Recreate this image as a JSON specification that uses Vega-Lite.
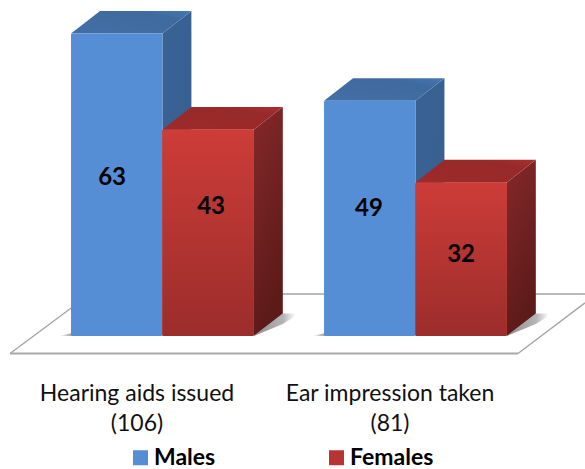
{
"$schema":"https://vega.github.io/schema/vega-lite/v6.json",
"width":585,"height":469,"padding":0,"autosize":{"type":"none"},"background":"white",
"config":{"view":{"stroke":null}},
"datasets":{
"bars":[
{"group":"Hearing aids issued","sex":"Males","value":63,"start":0,"end":1,"labelPos":0.449,"labelY":33},
{"group":"Hearing aids issued","sex":"Females","value":43,"start":1,"end":2,"labelPos":1.532,"labelY":26.8},
{"group":"Ear impression taken","sex":"Males","value":49,"start":2.768,"end":3.768,"labelPos":3.26,"labelY":26.4},
{"group":"Ear impression taken","sex":"Females","value":32,"start":3.768,"end":4.768,"labelPos":4.267,"labelY":16.8}
],
"groups":[
{"label":"Hearing aids issued\n(106)","pos":0.722,"y":-12.1},
{"label":"Ear impression taken\n(81)","pos":3.49,"y":-12.1}
],
"floor":[
{"edge":"left","pos":-0.667,"y":-3.65},{"edge":"left","pos":0.208,"y":8.75},
{"edge":"back","pos":0.208,"y":8.75},{"edge":"back","pos":5.623,"y":8.75},
{"edge":"right","pos":4.89,"y":-3.65},{"edge":"right","pos":5.623,"y":6.9}
],
"floorFront":[{"edge":"front","pos":-0.667,"y":-3.65},{"edge":"front","pos":4.89,"y":-3.65}],
"shadows":[
{"shadow":"left 1","side":"left","pos":-0.13,"low":0,"high":0},{"shadow":"left 1","side":"left","pos":0.02,"low":0,"high":0.7},
{"shadow":"left 2","side":"left","pos":2.638,"low":0,"high":0},{"shadow":"left 2","side":"left","pos":2.788,"low":0,"high":0.7},
{"shadow":"right 1","side":"right","pos":2,"low":0,"high":0},{"shadow":"right 1","side":"right","pos":2.317,"low":2.5,"high":4.7},{"shadow":"right 1","side":"right","pos":2.46,"low":4.2,"high":4.7},
{"shadow":"right 2","side":"right","pos":4.768,"low":0,"high":0},{"shadow":"right 2","side":"right","pos":5.085,"low":2.5,"high":4.7},{"shadow":"right 2","side":"right","pos":5.228,"low":4.2,"high":4.7}
],
"faces":[
{"face":"M1 side","tone":"blue side","pos":1,"low":0,"high":63},{"face":"M1 side","tone":"blue side","pos":1.317,"low":4.7,"high":67.7},
{"face":"M1 top","tone":"blue top","pos":0,"low":63,"high":63},{"face":"M1 top","tone":"blue top","pos":0.317,"low":63,"high":67.7},{"face":"M1 top","tone":"blue top","pos":1,"low":63,"high":67.7},{"face":"M1 top","tone":"blue top","pos":1.317,"low":67.7,"high":67.7},
{"face":"M2 side","tone":"blue side","pos":3.768,"low":0,"high":49},{"face":"M2 side","tone":"blue side","pos":4.085,"low":4.7,"high":53.7},
{"face":"M2 top","tone":"blue top","pos":2.768,"low":49,"high":49},{"face":"M2 top","tone":"blue top","pos":3.085,"low":49,"high":53.7},{"face":"M2 top","tone":"blue top","pos":3.768,"low":49,"high":53.7},{"face":"M2 top","tone":"blue top","pos":4.085,"low":53.7,"high":53.7},
{"face":"F1 side","tone":"red side","pos":2,"low":0,"high":43},{"face":"F1 side","tone":"red side","pos":2.317,"low":4.7,"high":47.7},
{"face":"F1 top","tone":"red top","pos":1,"low":43,"high":43},{"face":"F1 top","tone":"red top","pos":1.317,"low":43,"high":47.7},{"face":"F1 top","tone":"red top","pos":2,"low":43,"high":47.7},{"face":"F1 top","tone":"red top","pos":2.317,"low":47.7,"high":47.7},
{"face":"F2 side","tone":"red side","pos":4.768,"low":0,"high":32},{"face":"F2 side","tone":"red side","pos":5.085,"low":4.7,"high":36.7},
{"face":"F2 top","tone":"red top","pos":3.768,"low":32,"high":32},{"face":"F2 top","tone":"red top","pos":4.085,"low":32,"high":36.7},{"face":"F2 top","tone":"red top","pos":4.768,"low":32,"high":36.7},{"face":"F2 top","tone":"red top","pos":5.085,"low":36.7,"high":36.7}
]
},
"layer":[
{"data":{"name":"floor"},"mark":{"type":"line","stroke":"#a3a3a3","strokeWidth":1.3},
 "encoding":{"x":{"field":"pos","type":"quantitative","scale":{"domain":[-0.777,5.623],"nice":false,"zero":false},"axis":null},
 "y":{"field":"y","type":"quantitative","scale":{"domain":[-27.71,70],"nice":false,"zero":false},"axis":null},"detail":{"field":"edge"}}},
{"data":{"name":"floorFront"},"mark":{"type":"line","stroke":"#a8a8a8","strokeWidth":2},
 "encoding":{"x":{"field":"pos","type":"quantitative"},"y":{"field":"y","type":"quantitative"},"detail":{"field":"edge"}}},
{"data":{"name":"shadows"},"transform":[{"filter":"datum.side=='left'"}],
 "mark":{"type":"area","color":{"gradient":"linear","x1":0,"y1":0,"x2":1,"y2":0,"stops":[{"offset":0,"color":"#ffffff"},{"offset":1,"color":"#9a9a9a"}]}},
 "encoding":{"x":{"field":"pos","type":"quantitative"},"y":{"field":"high","type":"quantitative","stack":null},"y2":{"field":"low"},"detail":{"field":"shadow"}}},
{"data":{"name":"shadows"},"transform":[{"filter":"datum.side=='right'"}],
 "mark":{"type":"area","color":{"gradient":"linear","x1":0,"y1":0,"x2":1,"y2":0,"stops":[{"offset":0,"color":"#8f8f8f"},{"offset":0.7,"color":"#b5b5b5"},{"offset":1,"color":"#ffffff"}]}},
 "encoding":{"x":{"field":"pos","type":"quantitative"},"y":{"field":"high","type":"quantitative","stack":null},"y2":{"field":"low"},"detail":{"field":"shadow"}}},
{"data":{"name":"faces"},"transform":[{"filter":"datum.tone=='blue side'"}],
 "mark":{"type":"area","color":{"gradient":"linear","x1":0,"y1":0,"x2":1,"y2":1,"stops":[{"offset":0,"color":"#3a6395"},{"offset":1,"color":"#365d8d"}]}},
 "encoding":{"x":{"field":"pos","type":"quantitative"},"y":{"field":"high","type":"quantitative","stack":null},"y2":{"field":"low"},"detail":{"field":"face"}}},
{"data":{"name":"faces"},"transform":[{"filter":"datum.tone=='blue top'"}],
 "mark":{"type":"area","color":{"gradient":"linear","x1":0,"y1":1,"x2":1,"y2":0,"stops":[{"offset":0,"color":"#426fa6"},{"offset":0.75,"color":"#3f6a9f"},{"offset":1,"color":"#4478b5"}]}},
 "encoding":{"x":{"field":"pos","type":"quantitative"},"y":{"field":"high","type":"quantitative","stack":null},"y2":{"field":"low"},"detail":{"field":"face"}}},
{"data":{"name":"faces"},"transform":[{"filter":"datum.tone=='red side'"}],
 "mark":{"type":"area","color":{"gradient":"linear","x1":0,"y1":0,"x2":0.3,"y2":1,"stops":[{"offset":0,"color":"#85282a"},{"offset":1,"color":"#5c1a19"}]}},
 "encoding":{"x":{"field":"pos","type":"quantitative"},"y":{"field":"high","type":"quantitative","stack":null},"y2":{"field":"low"},"detail":{"field":"face"}}},
{"data":{"name":"faces"},"transform":[{"filter":"datum.tone=='red top'"}],
 "mark":{"type":"area","color":{"gradient":"linear","x1":0,"y1":1,"x2":1,"y2":0,"stops":[{"offset":0,"color":"#9c2b29"},{"offset":0.75,"color":"#98292a"},{"offset":1,"color":"#a82f2c"}]}},
 "encoding":{"x":{"field":"pos","type":"quantitative"},"y":{"field":"high","type":"quantitative","stack":null},"y2":{"field":"low"},"detail":{"field":"face"}}},
{"data":{"name":"bars"},"mark":{"type":"bar","cornerRadius":1.5},
 "encoding":{"x":{"field":"start","type":"quantitative"},"x2":{"field":"end"},"y":{"field":"value","type":"quantitative","stack":null},"y2":{"datum":0},
 "color":{"field":"sex","type":"nominal","scale":{"domain":["Males","Females"],"range":["#558ed5","#b63431"]},
 "legend":{"title":null,"orient":"none","legendX":129,"legendY":446,"direction":"horizontal","symbolType":"square","symbolSize":225,"symbolStrokeWidth":0,"labelFont":"Lato","labelFontWeight":"bold","labelFontSize":23,"labelColor":"#000000","labelOffset":2,"columnPadding":109,"labelLimit":300,"symbolOpacity":1}}}},
{"data":{"name":"bars"},"transform":[{"filter":"datum.sex=='Females'"}],
 "mark":{"type":"bar","cornerRadius":1.5,"color":{"gradient":"linear","x1":0,"y1":0,"x2":0,"y2":1,"stops":[{"offset":0,"color":"#cd3c38"},{"offset":1,"color":"#9b2d2b"}]}},
 "encoding":{"x":{"field":"start","type":"quantitative"},"x2":{"field":"end"},"y":{"field":"value","type":"quantitative","stack":null},"y2":{"datum":0}}},
{"data":{"name":"bars"},"mark":{"type":"text","font":"Lato","fontWeight":"bold","fontSize":24,"color":"#000000"},
 "encoding":{"x":{"field":"labelPos","type":"quantitative"},"y":{"field":"labelY","type":"quantitative"},"text":{"field":"value","type":"quantitative"}}},
{"data":{"name":"groups"},"mark":{"type":"text","font":"Lato","fontSize":23,"color":"#111111","lineBreak":"\n","lineHeight":30,"baseline":"middle"},
 "encoding":{"x":{"field":"pos","type":"quantitative"},"y":{"field":"y","type":"quantitative"},"text":{"field":"label"}}}
]
}
